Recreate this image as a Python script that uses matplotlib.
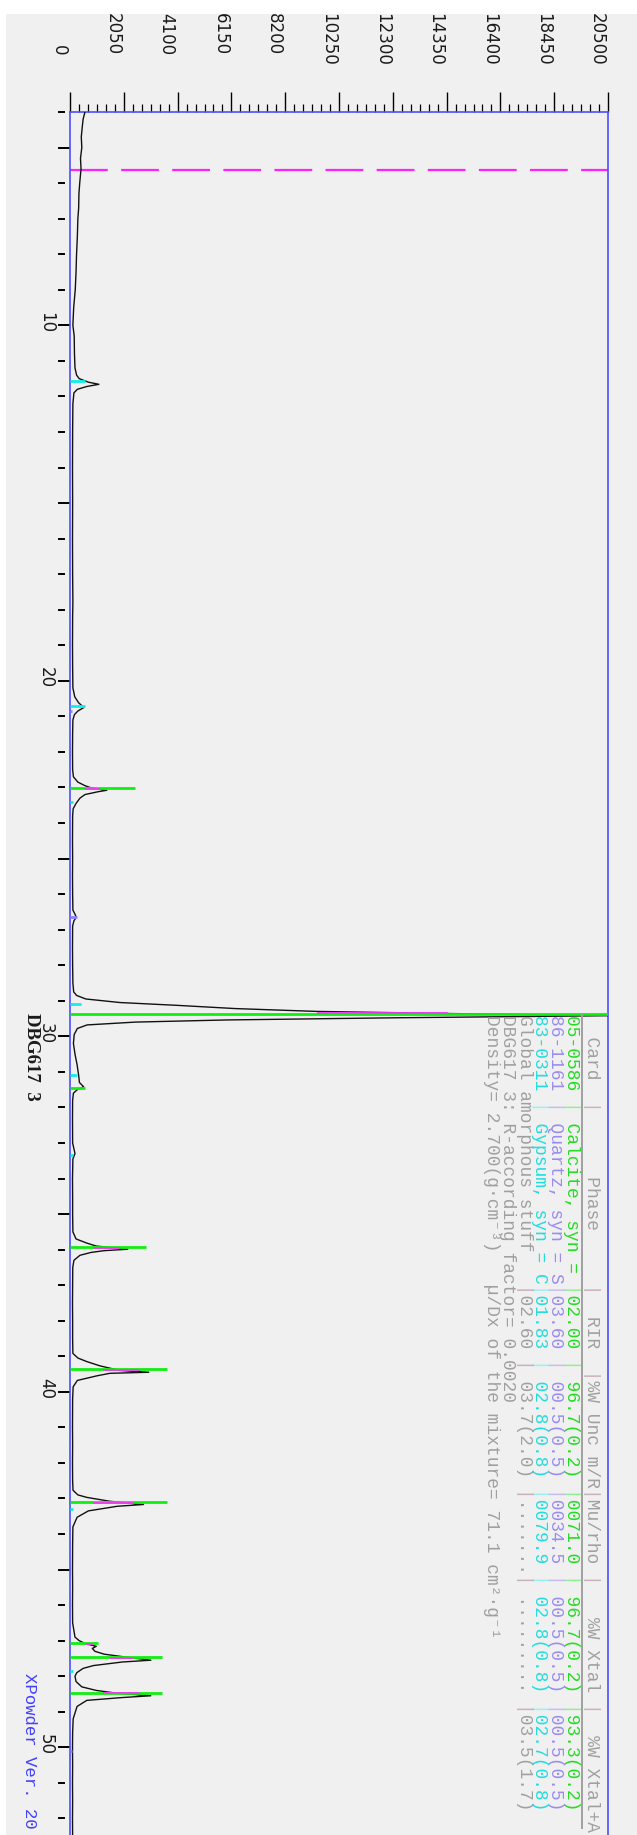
import matplotlib
matplotlib.use("Agg")
import matplotlib.pyplot as plt
from matplotlib.patches import Rectangle
from matplotlib.lines import Line2D
from matplotlib import transforms

W, H = 637, 1835

# ---- diffraction pattern (2theta in degrees, counts) ----
two_theta = [4.0, 4.2, 4.4, 4.7, 5.0, 5.3, 5.6, 6.0, 6.3, 6.7, 7.0, 7.5, 8.0, 8.5, 9.0, 9.5, 10.0,
             10.3, 10.8, 11.2, 11.4, 11.5, 11.6, 11.66, 11.72, 11.8, 11.9, 12.2, 13.0, 14.0, 15.0,
             16.0, 17.0, 17.8, 18.2, 19.0, 19.6, 20.2, 20.45, 20.62, 20.75, 20.85, 20.95, 21.1,
             21.5, 22.0, 22.5, 22.7, 22.85, 22.95, 23.0, 23.05, 23.08, 23.12, 23.2, 23.3, 23.45,
             23.6, 23.8, 24.5, 25.0, 25.5, 26.0, 26.45, 26.55, 26.65, 26.75, 26.9, 27.5, 28.0,
             28.5, 28.75, 28.85, 28.95, 29.05, 29.13, 29.22, 29.3, 29.36, 29.42, 29.48, 29.54,
             29.6, 29.68, 29.78, 29.95, 30.2, 30.5, 30.8, 31.1, 31.3, 31.42, 31.5, 31.6, 31.8,
             32.3, 33.0, 33.3, 33.45, 34.0, 34.5, 35.0, 35.5, 35.7, 35.82, 35.9, 35.99, 36.03,
             36.08, 36.16, 36.3, 36.5, 37.0, 37.5, 38.0, 38.5, 38.92, 39.05, 39.15, 39.27, 39.4,
             39.45, 39.48, 39.55, 39.68, 39.86, 40.2, 41.0, 41.5, 42.0, 42.5, 42.77, 42.9, 42.97,
             43.08, 43.17, 43.22, 43.35, 43.53, 43.8, 44.3, 45.0, 45.5, 46.0, 46.5, 46.9, 47.0,
             47.08, 47.16, 47.22, 47.3, 47.38, 47.45, 47.55, 47.6, 47.7, 47.78, 47.9, 48.0, 48.15,
             48.3, 48.4, 48.48, 48.55, 48.6, 48.68, 48.85, 49.2, 49.6, 50.0, 50.5, 51.0, 51.5,
             52.0, 52.5]
counts = [570, 500, 470, 430, 450, 400, 420, 370, 340, 330, 300, 280, 250, 230, 200, 140, 110,
          160, 170, 190, 250, 350, 700, 1100, 650, 280, 150, 110, 100, 95, 100,
          95, 100, 110, 100, 95, 100, 110, 180, 330, 530, 300, 170, 110,
          100, 95, 100, 130, 300, 570, 760, 1140, 1400, 1070, 570, 380, 230,
          120, 100, 95, 100, 95, 100, 110, 180, 240, 150, 100, 95, 100,
          110, 140, 250, 600, 1900, 4100, 6300, 9400, 14500, 20500, 12300, 6000,
          2500, 650, 280, 160, 130, 190, 270, 330, 360, 520, 280, 130, 100,
          95, 100, 190, 110, 95, 100, 100, 110, 230, 650, 1000, 2200, 1300,
          800, 380, 150, 105, 100, 95, 100, 100, 110, 300, 640, 1140, 1900,
          3000, 1520, 1030, 280, 120, 100, 95, 100, 95, 100, 115, 300, 640,
          1520, 2800, 1800, 700, 270, 110, 100, 95, 100, 95, 100, 190, 350,
          570, 1000, 850, 950, 1300, 2000, 3080, 2000, 900, 500, 260, 190, 230,
          450, 1000, 1800, 3080, 2000, 640, 270, 120, 100, 95, 100, 95, 100,
          95, 100]

# reference sticks
calcite_pos = [23.02, 29.38, 31.45, 35.93, 39.37, 43.11, 47.08, 47.47, 48.46]
calcite_int = [2480, 20500, 580, 2900, 3700, 3700, 1050, 3500, 3500]
gypsum_pos = [11.58, 20.72, 23.40, 29.10, 31.10, 33.35, 43.30, 47.85]
gypsum_int = [570, 570, 100, 420, 270, 100, 100, 100]
quartz_pos = [20.86, 26.64, 50.10]
quartz_int = [80, 250, 60]

# calculated profile near the peak tops
calc_pos = [23.03, 29.35, 35.95, 39.39, 43.13, 47.10, 47.49, 48.48]
calc_lo = [570, 9400, 880, 1260, 880, 570, 1520, 1260]
calc_hi = [1140, 14400, 1900, 2670, 2400, 880, 2400, 2670]

limit_2theta = 5.63

y_ticks = [0, 2050, 4100, 6150, 8200, 10250, 12300, 14350, 16400, 18450, 20500]
x_labels = [10, 20, 30, 40, 50]

header = "  Card  |      Phase     |  RIR  |%W Unc m/R|Mu/rho |   %W Xtal |  %W Xtal+A"
rows = [
    "05-0586 | Calcite, syn = |02.00 | 96.7(0.2) |0071.0 | 96.7(0.2) |93.3(0.2)",
    "86-1161 | Quartz, syn = S|03.60 | 00.5(0.5) |0034.5 | 00.5(0.5) |00.5(0.5)",
    "83-0311 | Gypsum, syn = C|01.83 | 02.8(0.8) |0079.9 | 02.8(0.8) |02.7(0.8)",
    "Global amorphous stuff   |02.60 | 03.7(2.0) |.......| ......... |03.5(1.7)",
    "DBG617 3: R-according factor= 0.0020",
    "Density= 2.700(g\u00b7cm\u207b\u00b3)   \u00b5/Dx of the mixture= 71.1 cm\u00b2\u00b7g\u207b\u00b9",
]
row_colors = ["#22dd22", "#9a8cf0", "#22dddd", "#a0a0a0", "#a0a0a0", "#a0a0a0"]
sep_colors = ["#8ef08e", "#c4bcf5", "#99f0f0", "#c8b0bc", "#a0a0a0", "#a0a0a0"]

fig = plt.figure(figsize=(W / 100, H / 100), dpi=100, facecolor="white")


def fx(px):
    return px / W


def fy(py):
    return 1 - py / H


# grey panel
fig.add_artist(Rectangle((fx(6), 0), 1 - fx(6), fy(14), transform=fig.transFigure,
                         facecolor="#f0f0f0", edgecolor="none", zorder=0))

x0, x1, ytop = 70, 608, 112
px_per_deg = 35.55
tt_bottom = 4 + (H - ytop) / px_per_deg

ax = fig.add_axes([fx(x0), 0, fx(x1) - fx(x0), fy(ytop)])
ax.set_facecolor("#f0f0f0")
ax.set_xlim(0, 20500)
ax.set_ylim(tt_bottom, 4)
for side in ("left", "top", "right"):
    ax.spines[side].set_color("#4d4dff")
    ax.spines[side].set_linewidth(1.2)
ax.spines["bottom"].set_visible(False)

# intensity axis on top
ax.xaxis.tick_top()
ax.set_xticks(y_ticks)
ax.set_xticklabels([])
minor = []
for i in range(len(y_ticks) - 1):
    for k in range(1, 6):
        minor.append(y_ticks[i] + k * 2050 / 6)
ax.set_xticks(minor, minor=True)
ax.tick_params(axis="x", which="major", direction="out", length=14.4, width=1.0, color="black")
ax.tick_params(axis="x", which="minor", direction="out", length=6, width=0.9, color="black")
ax.set_yticks([])

# intensity tick labels
lab_tr = transforms.offset_copy(transforms.blended_transform_factory(ax.transData, fig.transFigure),
                                fig=fig, x=-11, y=0, units="dots")
for v in y_ticks:
    ty = fy(45) if v == 0 else fy(13)
    ax.text(v, ty, str(v), transform=lab_tr, rotation=-90, ha="center", va="top",
            fontsize=12, family="DejaVu Sans", color="#1a1a1a", clip_on=False)

# 2theta ticks on the left
ytr = ax.get_yaxis_transform()
for d in range(4, int(tt_bottom) + 1):
    if d % 5 == 0:
        xa, xb = -11 / 538, -1 / 538
    else:
        xa, xb = -11 / 538, -6 / 538
    ax.add_line(Line2D([xa, xb], [d, d], transform=ytr, color="black", lw=1.4, clip_on=False))

lab2 = transforms.blended_transform_factory(fig.transFigure, ax.transData)
lab2 = transforms.offset_copy(lab2, fig=fig, x=0, y=3, units="dots")
for v in x_labels:
    ax.text(fx(46), v, str(v), transform=lab2, rotation=-90, ha="center", va="center",
            fontsize=12, family="DejaVu Sans", color="#1a1a1a", clip_on=False)

# limit marker
ax.axhline(limit_2theta, color="#ff22ff", lw=1.6, dashes=(17, 6), zorder=2)

# pattern
ax.plot(counts, two_theta, color="#111111", lw=1.0, zorder=3)
ax.hlines(calcite_pos, 0, calcite_int, color="#11ee11", lw=2.0, zorder=4)
ax.hlines(gypsum_pos, 0, gypsum_int, color="#11eeee", lw=2.0, zorder=4)
ax.hlines(quartz_pos, 0, quartz_int, color="#8f80ff", lw=2.0, zorder=4)
ax.hlines(calc_pos, calc_lo, calc_hi, color="#ff33ff", lw=1.3, zorder=5)

# results table
mono = ["Liberation Mono", "DejaVu Sans Mono"]
y_start = 1015


def table_line(xc, s, col, sep_col):
    body = s.replace("|", " ")
    seps = "".join(c if c == "|" else " " for c in s)
    fig.text(fx(xc), fy(y_start), body, rotation=-90, ha="center", va="top",
             fontsize=12.9, family=mono, color=col)
    if "|" in s:
        fig.text(fx(xc), fy(y_start), seps, rotation=-90, ha="center", va="top",
                 fontsize=12.9, family=mono, color=sep_col)


table_line(591, header, "#a0a0a0", "#c8b0bc")
for xc, s, c, sc in zip([571, 555, 539, 524, 507, 491], rows, row_colors, sep_colors):
    table_line(xc, s, c, sc)
fig.add_artist(Line2D([fx(582), fx(582)], [fy(1015), fy(1828)], transform=fig.transFigure,
                      color="#a0a0a0", lw=1.4))

# sample name and program tag
fig.text(fx(31), fy(1013), "DBG617  3", rotation=-90, ha="center", va="top",
         fontsize=13.5, family="Liberation Serif", fontweight="bold", color="#1a1a1a")
fig.text(fx(29), fy(1673), "XPowder Ver. 20", rotation=-90, ha="center", va="top",
         fontsize=12.5, family=mono, color="#4040ff")

fig.savefig("out.png", dpi=100, facecolor="white")
